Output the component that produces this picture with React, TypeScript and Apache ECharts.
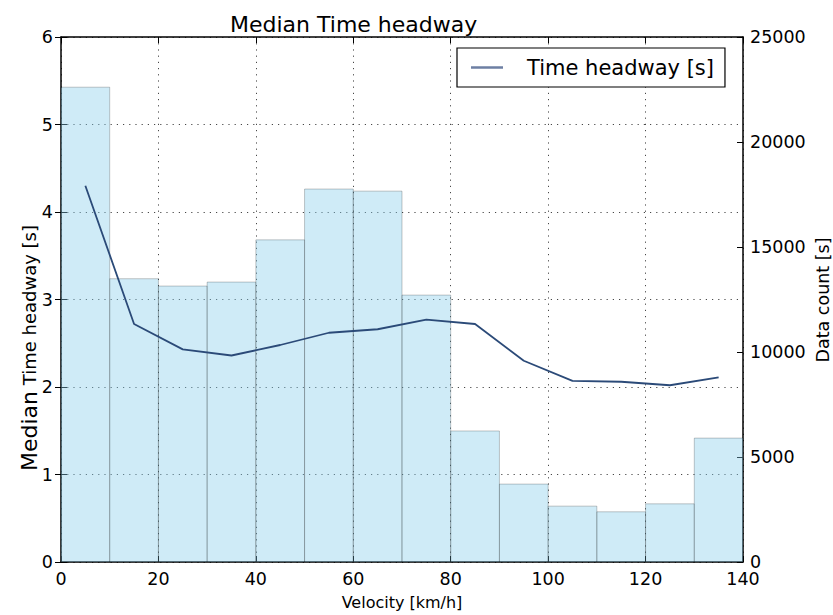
import React, { useEffect, useRef } from "react";
import * as echarts from "echarts";

const FONT = "DejaVu Sans";

// Histogram bins (velocity, km/h)
const binStarts = [0, 10, 20, 30, 40, 50, 60, 70, 80, 90, 100, 110, 120, 130];
const binWidth = 10;
const dataCount = [22610, 13490, 13140, 13330, 15340, 17760, 17660, 12710, 6240, 3710, 2660, 2390, 2770, 5900];

// Median time headway per bin center
const velocityCenters = [5, 15, 25, 35, 45, 55, 65, 75, 85, 95, 105, 115, 125, 135];
const medianHeadway = [4.30, 2.72, 2.43, 2.36, 2.48, 2.62, 2.66, 2.77, 2.72, 2.30, 2.07, 2.06, 2.02, 2.11];

const xMin = 0;
const xMax = 140;
const xInterval = 20;
const leftMax = 6;
const rightMax = 25000;
const rightInterval = 5000;

const seriesName = "Time headway [s]";

export default function App() {
  const ref = useRef<HTMLDivElement>(null);

  useEffect(() => {
    if (!ref.current) return;
    const chart = echarts.init(ref.current, undefined, { renderer: "svg" });

    const spine = { show: true, onZero: false, lineStyle: { color: "#000", width: 1.5 } };
    const tick = { show: true, inside: true, length: 6, lineStyle: { color: "#000", width: 1 } };
    const label = { fontSize: 17.5, color: "#000", fontFamily: FONT };
    const dotted = { show: true, lineStyle: { type: [1.2, 5], color: "#333", width: 0.9 } };

    const option: any = {
      animation: false,
      backgroundColor: "#fff",
      title: {
        text: "Median Time headway",
        left: 230,
        top: 13,
        padding: 0,
        textStyle: { fontSize: 22, fontWeight: "normal", color: "#000", fontFamily: FONT },
      },
      legend: {
        left: 457,
        top: 48,
        padding: [8, 11, 8, 14],
        borderColor: "#000",
        borderWidth: 1.2,
        borderRadius: 0,
        backgroundColor: "#fff",
        icon: "rect",
        itemWidth: 32,
        itemHeight: 2.5,
        itemStyle: { color: "#6d7fa3" },
        textStyle: { fontSize: 21, fontFamily: FONT, color: "#000", padding: [0, 0, 0, 19], lineHeight: 23 },
        data: [{ name: seriesName }],
      },
      grid: { left: 61, right: 90, top: 37, bottom: 51 },
      xAxis: [
        {
          type: "value",
          min: xMin,
          max: xMax,
          interval: xInterval,
          position: "bottom",
          axisLine: spine,
          axisTick: tick,
          axisLabel: { ...label, margin: 10, lineHeight: 14 },
          splitLine: dotted,
          name: "Velocity [km/h]",
          nameLocation: "middle",
          nameGap: 32,
          nameTextStyle: { fontSize: 16, color: "#000", fontFamily: FONT },
        },
        {
          type: "value",
          min: xMin,
          max: xMax,
          interval: xInterval,
          position: "top",
          axisLine: spine,
          axisTick: tick,
          axisLabel: { show: false },
          splitLine: { show: false },
        },
      ],
      yAxis: [
        {
          type: "value",
          min: 0,
          max: leftMax,
          interval: 1,
          position: "left",
          axisLine: spine,
          axisTick: tick,
          axisLabel: { ...label, margin: 8 },
          splitLine: dotted,
        },
        {
          type: "value",
          min: 0,
          max: rightMax,
          interval: rightInterval,
          position: "right",
          axisLine: spine,
          axisTick: tick,
          axisLabel: { ...label, margin: 7, lineHeight: 14, formatter: (v: number) => String(v) },
          splitLine: { show: false },
        },
        {
          type: "value",
          min: 0,
          max: leftMax,
          interval: 1,
          position: "right",
          axisLine: { show: false },
          axisTick: tick,
          axisLabel: { show: false },
          splitLine: { show: false },
        },
      ],
      graphic: [
        {
          type: "text",
          x: 29.5,
          y: 348,
          rotation: Math.PI / 2,
          style: {
            text: "{a|Median} {b|Time headway [s]}",
            align: "center",
            verticalAlign: "middle",
            fill: "#000",
            fontFamily: FONT,
            fontSize: 18,
            rich: {
              a: { fontSize: 22, fontFamily: FONT, fill: "#000" },
              b: { fontSize: 18, fontFamily: FONT, fill: "#000" },
            },
          },
        },
        {
          type: "text",
          x: 823,
          y: 300,
          rotation: Math.PI / 2,
          style: {
            text: "Data count [s]",
            align: "center",
            verticalAlign: "middle",
            fill: "#000",
            fontFamily: FONT,
            fontSize: 17.5,
          },
        },
      ],
      series: [
        {
          name: "Data count",
          type: "custom",
          xAxisIndex: 0,
          yAxisIndex: 1,
          encode: { x: [0, 1], y: 2 },
          data: binStarts.map((b, i) => [b, b + binWidth, dataCount[i]]),
          renderItem: (params: any, api: any) => {
            const p0 = api.coord([api.value(0), api.value(2)]);
            const p1 = api.coord([api.value(1), 0]);
            return {
              type: "rect",
              shape: { x: p0[0], y: p0[1], width: p1[0] - p0[0], height: p1[1] - p0[1] },
              style: { fill: "rgba(135,206,235,0.4)", stroke: "rgba(0,0,0,0.22)", lineWidth: 1 },
            };
          },
          z: 1,
        },
        {
          name: seriesName,
          type: "line",
          xAxisIndex: 0,
          yAxisIndex: 0,
          data: velocityCenters.map((v, i) => [v, medianHeadway[i]]),
          symbol: "none",
          lineStyle: { color: "#2b4a78", width: 1.8 },
          itemStyle: { color: "#2b4a78" },
          z: 3,
        },
      ],
    };

    chart.setOption(option);
    return () => chart.dispose();
  }, []);

  return <div ref={ref} style={{ width: 833, height: 615, position: "absolute", left: 0, top: 0 }} />;
}
